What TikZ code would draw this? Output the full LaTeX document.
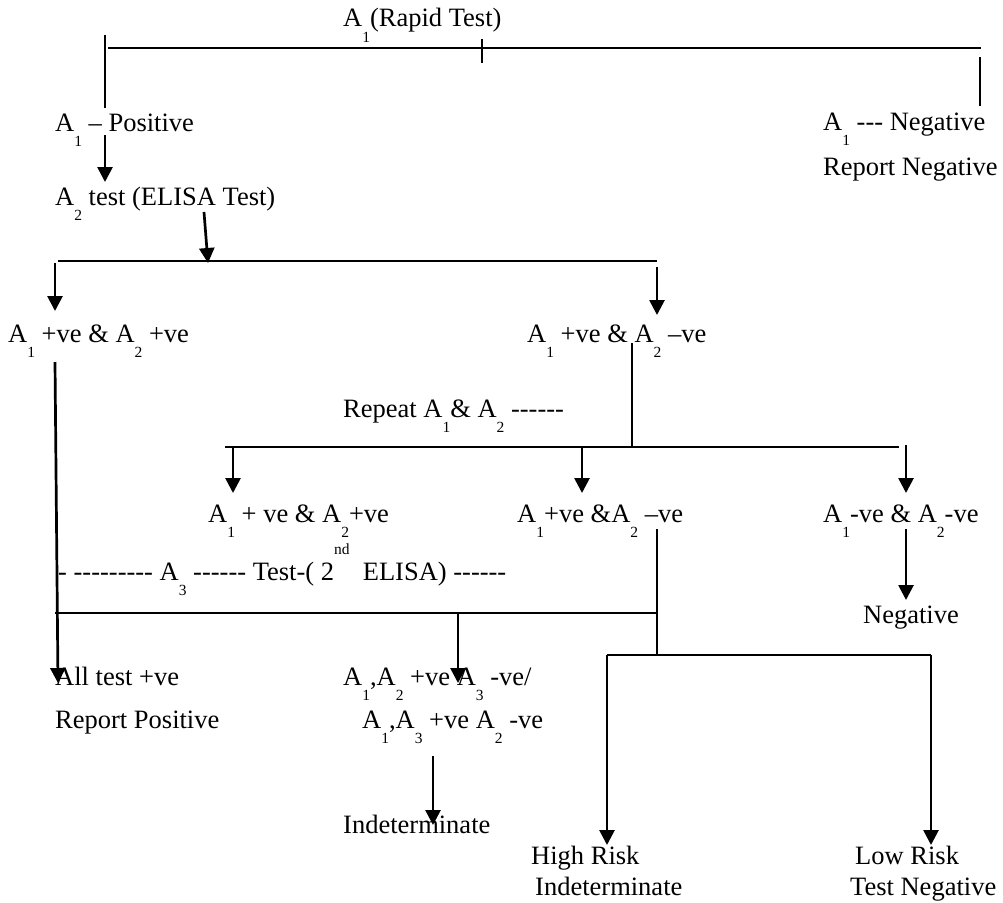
\documentclass[tikz,border=0pt]{standalone}
\usepackage{fontspec}
\setmainfont{Liberation Serif}[Ligatures=TeXOff]
\usetikzlibrary{positioning,arrows.meta}
\newcommand{\ix}[1]{\raisebox{-0.6em}{\fontsize{15.5}{15.5}\selectfont #1}}
\newcommand{\ord}[1]{\raisebox{0.95em}{\fontsize{15.5}{15.5}\selectfont #1}}
\tikzstyle{tbox}=[inner sep=0pt, anchor=base west, font=\fontsize{26.5}{30}\selectfont]
\tikzstyle{pline}=[-, line width=2pt]
\tikzstyle{aline}=[-{Triangle[length=15pt,width=15pt]}, line width=2.7pt]
\begin{document}
\begin{tikzpicture}[x=1pt,y=-1pt]
\useasboundingbox (0,0) rectangle (1003,902);

% first test
\node (RPD) [tbox] at (343,27) {A\ix{1}(Rapid Test)};
\node (APOS) [tbox] at (55,131) {A\ix{1} – Positive};
\node (ANEG) [tbox] at (823,130) {A\ix{1} --- Negative};
\node (RNEG) [tbox,below=45pt of ANEG.base west,anchor=base west] {Report Negative};
\node (ELSA) [tbox] at (55,205) {A\ix{2} test (ELISA Test)};

\coordinate (T1l) at (108,48); \coordinate (T1r) at (981,48);
\draw[pline] (T1l) -- (T1r);
\draw[pline] (105,35) -- (105,108);
\draw[pline] (482,39) -- (482,63);
\draw[pline] (980,57) -- (980,106);
\draw[aline] (105,135) -- (105,182);
\draw[aline] (204,212) -- (208,263);

% second test
\node (PP) [tbox] at (8,342) {A\ix{1} +ve \& A\ix{2} +ve};
\node (PN) [tbox] at (527,342) {A\ix{1} +ve \& A\ix{2} –ve};
\coordinate (T2l) at (58,261); \coordinate (T2r) at (657,261);
\draw[pline] (T2l) -- (T2r);
\draw[aline] (55,263) -- (55,311);
\draw[aline] (657,267) -- (657,315);

% repeat
\node (RPT) [tbox] at (343,417) {Repeat A\ix{1}\& A\ix{2} ------};
\coordinate (T3l) at (225,447); \coordinate (T3r) at (899,447);
\draw[pline] (632,343) -- (632,447);
\draw[pline] (T3l) -- (T3r);
\draw[aline] (233,447) -- (233,493);
\draw[aline] (582,447) -- (582,493);
\draw[aline] (906,445) -- (906,493);

\node (PP2) [tbox] at (208,522) {A\ix{1} + ve \& A\ix{2}+ve};
\node (PN2) [tbox] at (517,522) {A\ix{1}+ve \&A\ix{2} –ve};
\node (NN) [tbox] at (823,522) {A\ix{1}-ve \& A\ix{2}-ve};
\node (NEG) [tbox] at (863,623) {Negative};
\draw[aline] (906,529) -- (906,600);

% third test
\node (A3T) [tbox] at (58,580) {- --------- A\ix{3} ------ Test-( 2\ord{nd}~ ELISA) ------};
\coordinate (T4l) at (55,613); \coordinate (T4r) at (657,613);
\draw[aline] (55,362) -- (58,683);
\draw[pline] (T4l) -- (T4r);
\draw[pline] (657,529) -- (657,655);
\draw[aline] (458,613) -- (458,683);
\coordinate (T5l) at (607,655); \coordinate (T5r) at (931,655);
\draw[pline] (T5l) -- (T5r);
\draw[aline] (T5l) -- (607,845);
\draw[aline] (T5r) -- (931,845);

\node (ALL) [tbox] at (55,685) {All test +ve};
\node (REPP) [tbox,below=43pt of ALL.base west,anchor=base west] {Report Positive};
\node (MIX1) [tbox] at (343,685) {A\ix{1},A\ix{2} +ve A\ix{3} -ve/};
\node (MIX2) [tbox] at (362,728) {A\ix{1},A\ix{3} +ve A\ix{2} -ve};
\node (IND) [tbox] at (343,833) {Indeterminate};
\draw[aline] (433,756) -- (433,825);

\node (HR) [tbox] at (531,864) {High Risk};
\node (HRI) [tbox] at (535,895) {Indeterminate};
\node (LR) [tbox] at (855,864) {Low Risk};
\node (LRT) [tbox] at (850,895) {Test Negative};

\end{tikzpicture}
\end{document}
